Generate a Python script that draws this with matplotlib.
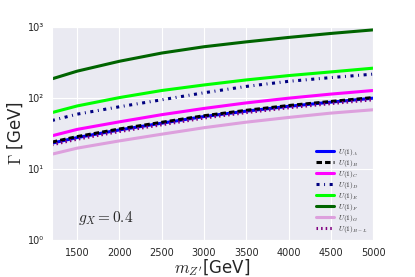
import matplotlib
matplotlib.use("Agg")
import matplotlib.pyplot as plt
from matplotlib.ticker import FixedLocator, FixedFormatter
import seaborn as sns
import numpy as np

sns.set_style("darkgrid")
plt.rcParams["mathtext.fontset"] = "cm"

# Z' mass grid [GeV]
m_zp = [1200, 1500, 2000, 2500, 3000, 3500, 4000, 4500, 5000]

# total widths [GeV]
gamma_A = [23, 27.6, 35.4, 44, 54.6, 65, 76, 87, 99]
gamma_B = [23.8, 28.5, 36.5, 45.3, 56, 66.8, 78, 89, 101]
gamma_C = [29.2, 36, 46, 58, 71, 85, 99, 113, 127]
gamma_D = [48, 59, 75, 94, 118, 145, 171, 193, 216]
gamma_E = [62, 77, 101, 127, 152, 179, 206, 232, 262]
gamma_F = [185, 238, 328, 428, 525, 615, 710, 808, 907]
gamma_G = [16.1, 19.6, 24.8, 30.8, 38, 45.5, 53, 61, 68]
gamma_BL = [21.8, 26.2, 33.6, 41.8, 52, 62, 72.5, 83, 94]

ytick_vals = [1, 10, 100, 1000]
ytick_text = ["10\u2070", "10\u00b9", "10\u00b2", "10\u00b3"]

fig = plt.figure(figsize=(4.15, 2.77), dpi=100)
ax = fig.add_axes([0.125, 0.134, 0.774, 0.769])

x = np.array(m_zp)
ax.plot(x, gamma_A, color="#0000ff", lw=2.2, label=r"$U(1)_A$")
ax.plot(x, gamma_B, color="black", lw=2.2, ls=(0, (1.8, 1.0)), label=r"$U(1)_B$")
ax.plot(x, gamma_C, color="#ff00ff", lw=2.2, label=r"$U(1)_C$")
ax.plot(x, gamma_D, color="#000080", lw=2.2, ls=(0, (1.0, 1.5, 0.3, 1.5)), label=r"$U(1)_D$")
ax.plot(x, gamma_E, color="#00ff00", lw=2.2, label=r"$U(1)_E$")
ax.plot(x, gamma_F, color="#006400", lw=2.2, label=r"$U(1)_F$")
ax.plot(x, gamma_G, color="#dda0dd", lw=2.2, label=r"$U(1)_G$")
ax.plot(x, gamma_BL, color="#800080", lw=2.2, ls=(0, (0.5, 1)), label=r"$U(1)_{B-L}$")

ax.set_yscale("log")
ax.set_ylim(1, 1000)
ax.set_xlim(1200, 5000)
ax.set_xticks([1500, 2000, 2500, 3000, 3500, 4000, 4500, 5000])
ax.minorticks_off()
ax.yaxis.set_major_locator(FixedLocator(ytick_vals))
ax.yaxis.set_major_formatter(FixedFormatter(ytick_text))
ax.tick_params(labelsize=7, pad=2)

ax.set_xlabel(r"$m_{Z'}$[GeV]", fontsize=12, labelpad=0)
ax.set_ylabel(r"$\Gamma$ [GeV]", fontsize=12, labelpad=2)

ax.text(1505, 2.05, r"$g_X = 0.4$", fontsize=11, va="center")

leg = ax.legend(loc="lower right", fontsize=5.3, frameon=False, handlelength=2.5,
                labelspacing=0.0, borderaxespad=0.3, handletextpad=0.5)
for t in leg.get_texts():
    t.set_color("#333333")

fig.savefig("out.png", dpi=100)
